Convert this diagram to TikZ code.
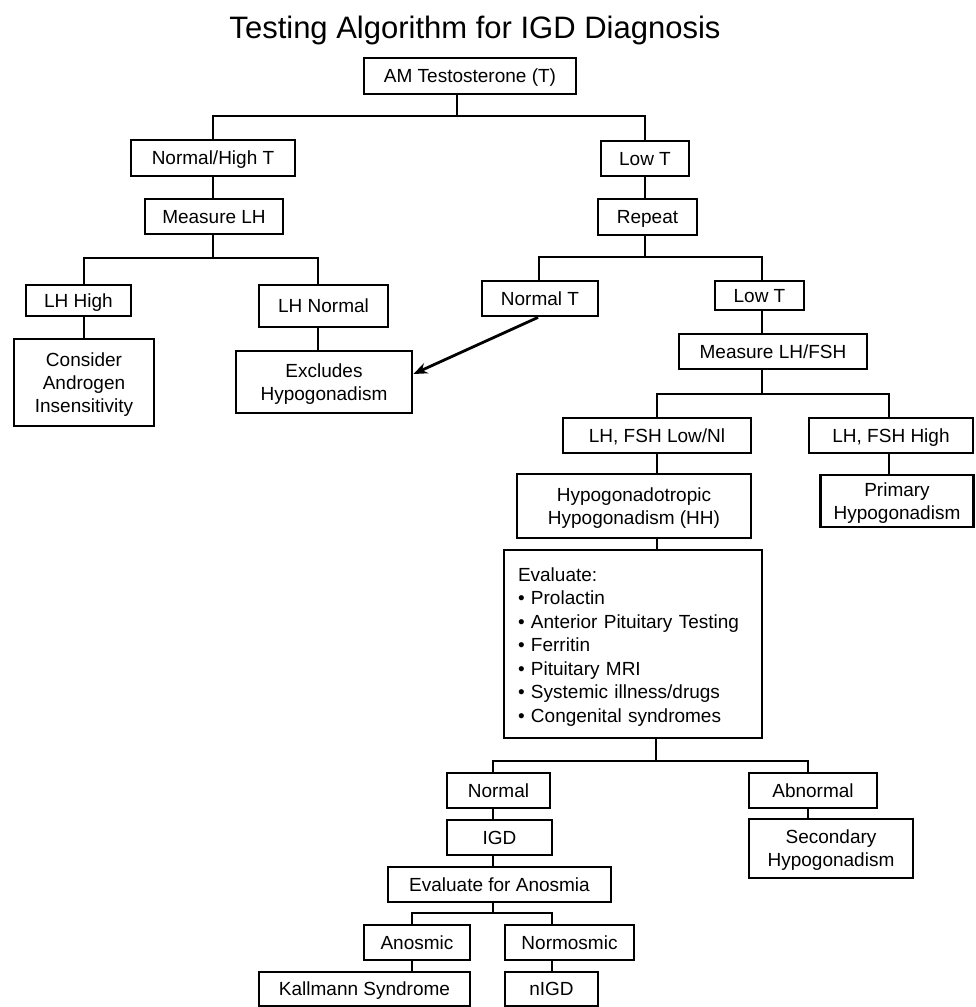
\documentclass[tikz,border=0pt]{standalone}
\usepackage{fontspec}
\setmainfont{Liberation Sans}
\usetikzlibrary{arrows.meta}
\begin{document}
\begin{tikzpicture}[x=1pt,y=-1pt,
  line width=2.8pt,
  sz/.style 2 args={minimum width=#1pt, minimum height=#2pt},
  box/.style={draw, line width=2.8pt, rectangle, inner sep=0pt, align=center,
    font=\fontsize{19}{23}\selectfont, text height=13.6pt, text depth=0pt},
  mbox/.style={draw, line width=2.8pt, rectangle, inner sep=0pt, align=center,
    font=\fontsize{19}{23}\selectfont, text depth=0pt},
  link/.style={line width=2.8pt},
  arr/.style={line width=2.8pt, -{Stealth[length=14pt,width=11pt]}}
]
\useasboundingbox[fill=white] (0,0) rectangle (975,1007);

\node[font=\fontsize{31}{36}\selectfont, anchor=base] (title) at (475,38) {Testing Algorithm for IGD Diagnosis};

% nodes
\node[box, sz={212}{36}] (am) at (470,76) {AM Testosterone (T)};
\node[box, sz={164}{36}] (nh) at (213,158) {Normal/High T};
\node[box, sz={88}{35}] (lowt) at (645,158.5) {Low T};
\node[box, sz={138}{35}] (mlh) at (214,216.5) {Measure LH};
\node[box, sz={99}{36}] (rep) at (647.5,217) {Repeat};
\node[box, sz={105}{31}] (lhh) at (78.5,300.5) {LH High};
\node[box, sz={129}{42}] (lhn) at (323.5,306) {LH Normal};
\node[box, sz={116}{35}] (normt) at (540,298.5) {Normal T};
\node[box, sz={89}{29}] (lowt2) at (759.5,295.5) {Low T};
\node[mbox, sz={140}{87}] (cons) at (84,382.5) {Consider\\Androgen\\Insensitivity};
\node[mbox, sz={176}{62}] (excl) at (324,382) {Excludes\\Hypogonadism};
\node[box, sz={188}{35}] (mlf) at (773,351.5) {Measure LH/FSH};
\node[box, sz={188}{35}] (lfl) at (657,435.5) {LH, FSH Low/Nl};
\node[box, sz={164}{35}] (lfh) at (891,435.5) {LH, FSH High};
\node[mbox, sz={234}{64}] (hh) at (634,506) {Hypogonadotropic\\Hypogonadism (HH)};
\node[mbox, sz={153}{52}] (prim) at (897,501) {Primary\\Hypogonadism};
\node[draw, line width=2.8pt, rectangle, inner xsep=14pt, inner ysep=0pt,
  text width=230pt, align=left, minimum height=188pt, text height=19.5pt,
  font=\fontsize{19}{23.5}\selectfont] (eval) at (633,644)
  {Evaluate:\\• Prolactin\\• Anterior Pituitary Testing\\• Ferritin\\• Pituitary MRI\\• Systemic illness/drugs\\• Congenital syndromes};
\node[box, sz={103}{35}] (norm) at (498.5,790.5) {Normal};
\node[box, sz={128}{35}] (abn) at (813,790.5) {Abnormal};
\node[box, sz={105}{35}] (igd) at (499.5,837.5) {IGD};
\node[mbox, sz={164}{59}] (sec) at (831,848.5) {Secondary\\Hypogonadism};
\node[box, sz={223}{35}] (efa) at (499.5,884.5) {Evaluate for Anosmia};
\node[box, sz={106}{35}] (ano) at (417,942.5) {Anosmic};
\node[box, sz={129}{35}] (nor) at (569.5,942.5) {Normosmic};
\node[box, sz={211}{34}] (kall) at (364.5,989) {Kallmann Syndrome};
\node[box, sz={93}{34}] (nigd) at (551.5,989) {nIGD};

% junctions
\coordinate (j1) at (457,116);
\coordinate (j2) at (213,258);
\coordinate (j2l) at (84,258);
\coordinate (j2r) at (318,258);
\coordinate (j3) at (645,257);
\coordinate (j3l) at (539,257);
\coordinate (j3r) at (762,257);
\coordinate (j4) at (762,394);
\coordinate (j4l) at (657,394);
\coordinate (j4r) at (889,394);
\coordinate (j5) at (656,761);
\coordinate (j5l) at (493,761);
\coordinate (j5r) at (808,761);
\coordinate (j6) at (493,913);
\coordinate (j6l) at (412,913);
\coordinate (j6r) at (552,913);

% connectors
\draw[link] (am.south -| j1) -- (j1);
\draw[link] (nh.north) |- (j1) -| (lowt.north);
\draw[link] (nh.south) -- (nh.south |- mlh.north);
\draw[link] (mlh.south -| j2) -- (j2);
\draw[link] (j2l |- lhh.north) -- (j2l) -- (j2r) -- (j2r |- lhn.north);
\draw[link] (lhh.south -| j2l) -- (cons.north -| j2l);
\draw[link] (lhn.south -| j2r) -- (excl.north -| j2r);
\draw[link] (lowt.south) -- (lowt.south |- rep.north);
\draw[link] (rep.south -| j3) -- (j3);
\draw[link] (j3l |- normt.north) -- (j3l) -- (j3r) -- (j3r |- lowt2.north);
\draw[link] (lowt2.south -| j3r) -- (mlf.north -| j3r);
\draw[link] (mlf.south -| j4) -- (j4);
\draw[link] (j4l |- lfl.north) -- (j4l) -- (j4r) -- (j4r |- lfh.north);
\draw[link] (lfl.south -| j4l) -- (hh.north -| j4l);
\draw[link] (hh.south -| j4l) -- (eval.north -| j4l);
\draw[link] (lfh.south -| j4r) -- (prim.north -| j4r);
\draw[link] (eval.south -| j5) -- (j5);
\draw[link] (j5l |- norm.north) -- (j5l) -- (j5r) -- (j5r |- abn.north);
\draw[link] (norm.south -| j5l) -- (igd.north -| j5l);
\draw[link] (igd.south -| j5l) -- (efa.north -| j5l);
\draw[link] (abn.south -| j5r) -- (sec.north -| j5r);
\draw[link] (efa.south -| j6) -- (j6);
\draw[link] (j6l |- ano.north) -- (j6l) -- (j6r) -- (j6r |- nor.north);
\draw[link] (ano.south -| j6l) -- (kall.north -| j6l);
\draw[link] (nor.south -| j6r) -- (nigd.north -| j6r);
\draw[arr] ([xshift=-2pt]normt.south) -- ([yshift=8pt]excl.east);
\end{tikzpicture}
\end{document}
